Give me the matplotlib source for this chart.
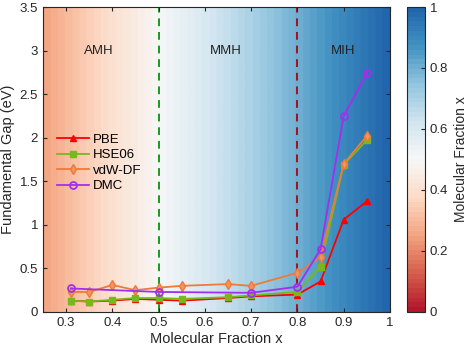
import numpy as np
import matplotlib
matplotlib.use('Agg')
import matplotlib.pyplot as plt
from matplotlib.colors import LinearSegmentedColormap, Normalize
from matplotlib.cm import ScalarMappable

# data
x_dft = [0.31, 0.35, 0.40, 0.45, 0.50, 0.55, 0.65, 0.70, 0.80, 0.85, 0.90, 0.95]
pbe = [0.13, 0.12, 0.13, 0.15, 0.14, 0.13, 0.16, 0.18, 0.20, 0.35, 1.06, 1.27]
hse06 = [0.13, 0.12, 0.14, 0.16, 0.16, 0.15, 0.17, 0.19, 0.23, 0.52, 1.69, 1.97]
vdwdf = [0.23, 0.23, 0.31, 0.25, 0.28, 0.30, 0.32, 0.30, 0.45, 0.63, 1.70, 2.02]
x_dmc = [0.31, 0.50, 0.70, 0.80, 0.85, 0.90, 0.95]
dmc = [0.27, 0.23, 0.22, 0.29, 0.72, 2.25, 2.74]

regions = ['AMH', 'MMH', 'MIH']
region_x = [0.37, 0.645, 0.898]
boundaries = [0.5, 0.8]

plt.rcParams['font.family'] = ['Liberation Sans', 'DejaVu Sans']
plt.rcParams['font.size'] = 9

cmap = LinearSegmentedColormap.from_list(
    'rdbu', ['#b2182b', '#d6604d', '#f4a582', '#fddbc7', '#f7f7f7',
             '#d1e5f0', '#92c5de', '#4393c3', '#2166ac'], N=64)

fig = plt.figure(figsize=(4.67, 3.5), dpi=100)
ax = fig.add_axes([0.092, 0.1086, 0.743, 0.8714])

# background gradient, colour = molecular fraction
grad = np.linspace(0.25, 1.0, 400).reshape(1, -1)
ax.imshow(grad, cmap=cmap, vmin=0, vmax=1, aspect='auto',
          extent=[0.25, 1.0, 0, 3.5], origin='lower', zorder=0)

ax.axvline(boundaries[0], color='#1a9a1a', ls=(0, (4, 3)), lw=1.4, zorder=1)
ax.axvline(boundaries[1], color='#a3111f', ls=(0, (4, 3)), lw=1.4, zorder=1)

for name, xr in zip(regions, region_x):
    ax.text(xr, 3.0, name, ha='center', va='center', fontsize=9.5, color='#222222')

ax.plot(x_dft, pbe, '-^', color='#ff0000', lw=1.3, ms=5, label='PBE', zorder=3)
ax.plot(x_dft, hse06, '-s', color='#77b81c', lw=1.3, ms=4, label='HSE06', zorder=3)
ax.plot(x_dft, vdwdf, '-d', color='#ee7a3c', lw=1.3, ms=5, mfc='#f0955f', label='vdW-DF', zorder=3)
ax.plot(x_dmc, dmc, '-o', color='#a030f0', lw=1.3, ms=5, mfc='none', mew=1.3, label='DMC', zorder=4)

ax.set_xlim(0.25, 1.0)
ax.set_ylim(0, 3.5)
ax.set_xticks([0.3, 0.4, 0.5, 0.6, 0.7, 0.8, 0.9, 1.0])
ax.set_xticklabels(['0.3', '0.4', '0.5', '0.6', '0.7', '0.8', '0.9', '1'])
ax.set_yticks(np.arange(0, 3.51, 0.5))
ax.set_yticklabels(['0', '0.5', '1', '1.5', '2', '2.5', '3', '3.5'])
ax.tick_params(direction='in', top=True, right=True, length=3, width=0.8,
               colors='#262626', labelsize=9.5)
for s in ax.spines.values():
    s.set_color('#262626')
    s.set_linewidth(0.8)
ax.set_xlabel('Molecular Fraction x', fontsize=10.5, color='#262626', labelpad=2)
ax.set_ylabel('Fundamental Gap (eV)', fontsize=10.5, color='#262626', labelpad=3)

ax.legend(loc='upper left', bbox_to_anchor=(0.015, 0.615), frameon=False,
          fontsize=9.5, handlelength=2.4, handletextpad=0.3, labelspacing=0.25,
          borderaxespad=0.3)

cax = fig.add_axes([0.8715, 0.1086, 0.0385, 0.8714])
cb = fig.colorbar(ScalarMappable(norm=Normalize(0, 1), cmap=cmap), cax=cax)
cb.set_ticks([0, 0.2, 0.4, 0.6, 0.8, 1.0])
cb.set_ticklabels(['0', '0.2', '0.4', '0.6', '0.8', '1'])
cb.ax.tick_params(direction='in', length=3, width=0.8, colors='#262626', labelsize=9.5)
cb.outline.set_edgecolor('#262626')
cb.outline.set_linewidth(0.8)
cb.set_label('Molecular Fraction x', fontsize=10, color='#262626', labelpad=4)

fig.savefig('out.png', dpi=100)
